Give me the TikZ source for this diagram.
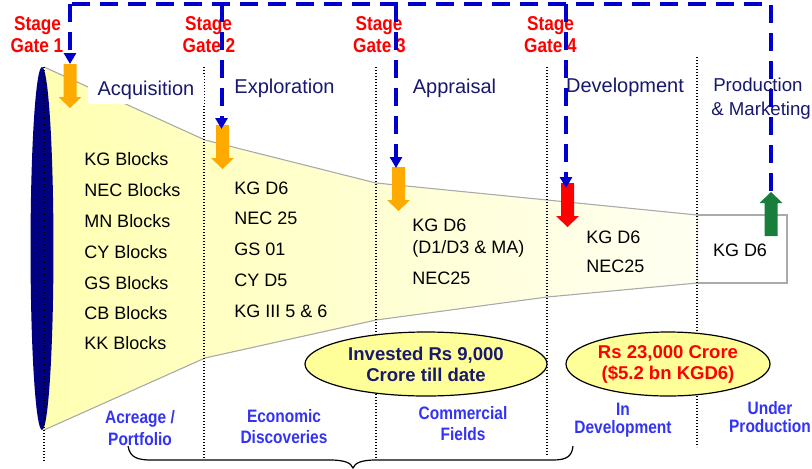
\documentclass[tikz,border=0pt]{standalone}
\usepackage{fontspec}
\setmainfont{Liberation Sans}
\newfontfamily\narrowfont[FakeStretch=0.86]{Liberation Sans}
\usetikzlibrary{shapes.geometric,arrows.meta}
\definecolor{gatered}{RGB}{255,0,0}
\definecolor{gateblue}{RGB}{0,0,204}
\definecolor{navytext}{RGB}{24,24,110}
\definecolor{navyfill}{RGB}{0,0,128}
\definecolor{noteblue}{RGB}{51,51,245}
\definecolor{gateorange}{RGB}{255,170,0}
\definecolor{gategreen}{RGB}{25,125,60}
\definecolor{ovalyellow}{RGB}{255,255,153}
\definecolor{funnelL}{RGB}{255,255,178}
\definecolor{funnelR}{RGB}{255,255,242}
\definecolor{edgegray}{RGB}{170,170,170}
\tikzset{
  gatelabel/.style={text=gatered, font=\narrowfont\bfseries\fontsize{15pt}{18pt}\selectfont, anchor=base, inner sep=0pt},
  phase/.style={text=navytext, font=\fontsize{15pt}{18pt}\selectfont, fill=white, anchor=base, inner xsep=7.5pt, inner ysep=4pt},
  phasel/.style={phase, font=\fontsize{14pt}{17pt}\selectfont, anchor=base west, inner xsep=0pt},
  item/.style={font=\fontsize{13.5pt}{16pt}\selectfont, anchor=base west, inner sep=0pt},
  note/.style={text=noteblue, font=\narrowfont\bfseries\fontsize{13.5pt}{16pt}\selectfont, anchor=base, inner sep=0pt},
  oval/.style={ellipse, draw=black, line width=0.9pt, fill=ovalyellow, inner sep=0pt, align=center,
    font=\bfseries\fontsize{13.9pt}{15.75pt}\selectfont},
  dotline/.style={black, line width=0.9pt, dash pattern=on 0.9pt off 1.35pt},
  gateline/.style={gateblue, line width=3pt, dash pattern=on 13.5pt off 7.5pt},
  gatetip/.style={-{Triangle[width=9pt,length=8.25pt]}},
  edgeline/.style={edgegray, line width=0.8pt},
  blockarrow/.pic={\fill[pic actions] (-6.5,0) -- (6.5,0) -- (6.5,33) -- (11.5,33) -- (0,44) -- (-11.5,33) -- (-6.5,33) -- cycle;}
}
\begin{document}
\begin{tikzpicture}[x=0.75pt,y=-0.75pt]
\useasboundingbox (0,0) rectangle (812,468);
% funnel
\fill[left color=funnelL, right color=funnelR] (44,67) -- (205,140) -- (376,183) -- (547,200) -- (697,215) -- (697,283) -- (547,297) -- (376,320) -- (205,358) -- (44,430) -- cycle;
\draw[edgeline] (44,67) -- (205,140) -- (376,183) -- (547,200) -- (697,215);
\draw[edgeline] (44,430) -- (205,358) -- (376,320) -- (547,297) -- (697,283);
\draw[edgegray, line width=1.1pt] (697,215) -- (787,215) -- (787,283) -- (697,283);
% left disc
\fill[navyfill] (42,248.5) ellipse [x radius=8.6pt, y radius=136.1pt];
% dotted separators
\draw[dotline] (44,67) -- (44,462);
\draw[dotline] (204,67) -- (204,458);
\draw[dotline] (376,67) -- (376,458);
\draw[dotline] (547,67) -- (547,456);
\draw[dotline] (697,57) -- (697,447);
% phase labels
\node[phase] (acq) at (146,95) {Acquisition};
\node[phase] (exp) at (284.5,93) {Exploration};
\node[phase] (app) at (454.5,93) {Appraisal};
\node[phase] (dev) at (625,92) {Development};
\node[phasel] (prod1) at (713,91) {Production};
\node[phasel] (prod2) at (711,115) {\& Marketing};
% column 1
\node[item] (c1a) at (84,165) {KG Blocks};
\node[item] (c1b) at (84,196) {NEC Blocks};
\node[item] (c1c) at (84,227) {MN Blocks};
\node[item] (c1d) at (84,258) {CY Blocks};
\node[item] (c1e) at (84,289) {GS Blocks};
\node[item] (c1f) at (84,319) {CB Blocks};
\node[item] (c1g) at (84,349) {KK Blocks};
% column 2
\node[item] (c2a) at (234,194) {KG D6};
\node[item] (c2b) at (234,224) {NEC 25};
\node[item] (c2c) at (234,255) {GS 01};
\node[item] (c2d) at (234,286) {CY D5};
\node[item] (c2e) at (234,317) {KG III 5 \& 6};
% column 3
\node[item] (c3a) at (412,231) {KG D6};
\node[item] (c3b) at (412,253) {(D1/D3 \& MA)};
\node[item] (c3c) at (412,284) {NEC25};
% column 4
\node[item] (c4a) at (586,243) {KG D6};
\node[item] (c4b) at (586,272) {NEC25};
% production box
\node[item, anchor=base] (c5a) at (740,256) {KG D6};
% ovals
\node[oval, text=navytext, minimum width=181.5pt, minimum height=48pt] (inv) at (426,364) {Invested Rs 9,000\\Crore till date};
\node[oval, text=gatered, minimum width=153pt, minimum height=48pt] (rs) at (668,364) {Rs 23,000 Crore\\(\$5.2 bn KGD6)};
% bottom notes
\node[note] (n1a) at (140,423) {Acreage /};
\node[note] (n1b) at (140,445) {Portfolio};
\node[note] (n2a) at (284,422) {Economic};
\node[note] (n2b) at (284,443) {Discoveries};
\node[note] (n3a) at (463,419) {Commercial};
\node[note] (n3b) at (463,440) {Fields};
\node[note] (n4a) at (623,415) {In};
\node[note] (n4b) at (623,433) {Development};
\node[note] (n5a) at (770,414) {Under};
\node[note] (n5b) at (770,432) {Production};
% brace
\draw[black, line width=0.9pt] (128,446) .. controls (130,458) and (138,460) .. (152,460) -- (330,460) .. controls (345,460) and (351,463) .. (353,468) .. controls (355,463) and (361,460) .. (376,460) -- (553,460) .. controls (567,460) and (572,456) .. (573,446);
% stage gate labels
\node[gatelabel] (s1a) at (37.5,30) {Stage};
\node[gatelabel] (s1b) at (37,52) {Gate 1};
\node[gatelabel] (s2a) at (208.5,30) {Stage};
\node[gatelabel] (s2b) at (209,52) {Gate 2};
\node[gatelabel] (s3a) at (379,30) {Stage};
\node[gatelabel] (s3b) at (379.5,52) {Gate 3};
\node[gatelabel] (s4a) at (550.5,30) {Stage};
\node[gatelabel] (s4b) at (550.5,52) {Gate 4};
% block arrows
\pic[fill=gateorange] at (70,64) {blockarrow};
\pic[fill=gateorange] at (222.5,125) {blockarrow};
\pic[fill=gateorange] at (398.5,167) {blockarrow};
\pic[fill=gatered] at (567.5,183) {blockarrow};
\pic[fill=gategreen, rotate=180] at (771,236) {blockarrow};
% gate lines
\coordinate (t1) at (70,4);
\coordinate (t2) at (221.5,4);
\coordinate (t3) at (396,4);
\coordinate (t4) at (566,4);
\coordinate (t5) at (771,4);
\coordinate (e1) at (70,64);
\coordinate (e2) at (221.5,129);
\coordinate (e3) at (396,168);
\coordinate (e4) at (566,188);
\coordinate (e5) at (771,191);
\draw[gateline] (e5) -- (t5) -- (t1);
\draw[gateline, gatetip] (t1) -- (e1);
\draw[gateline, gatetip] (t2) -- (e2);
\draw[gateline, gatetip] (t3) -- (e3);
\draw[gateline, gatetip] (t4) -- (e4);
\end{tikzpicture}
\end{document}
